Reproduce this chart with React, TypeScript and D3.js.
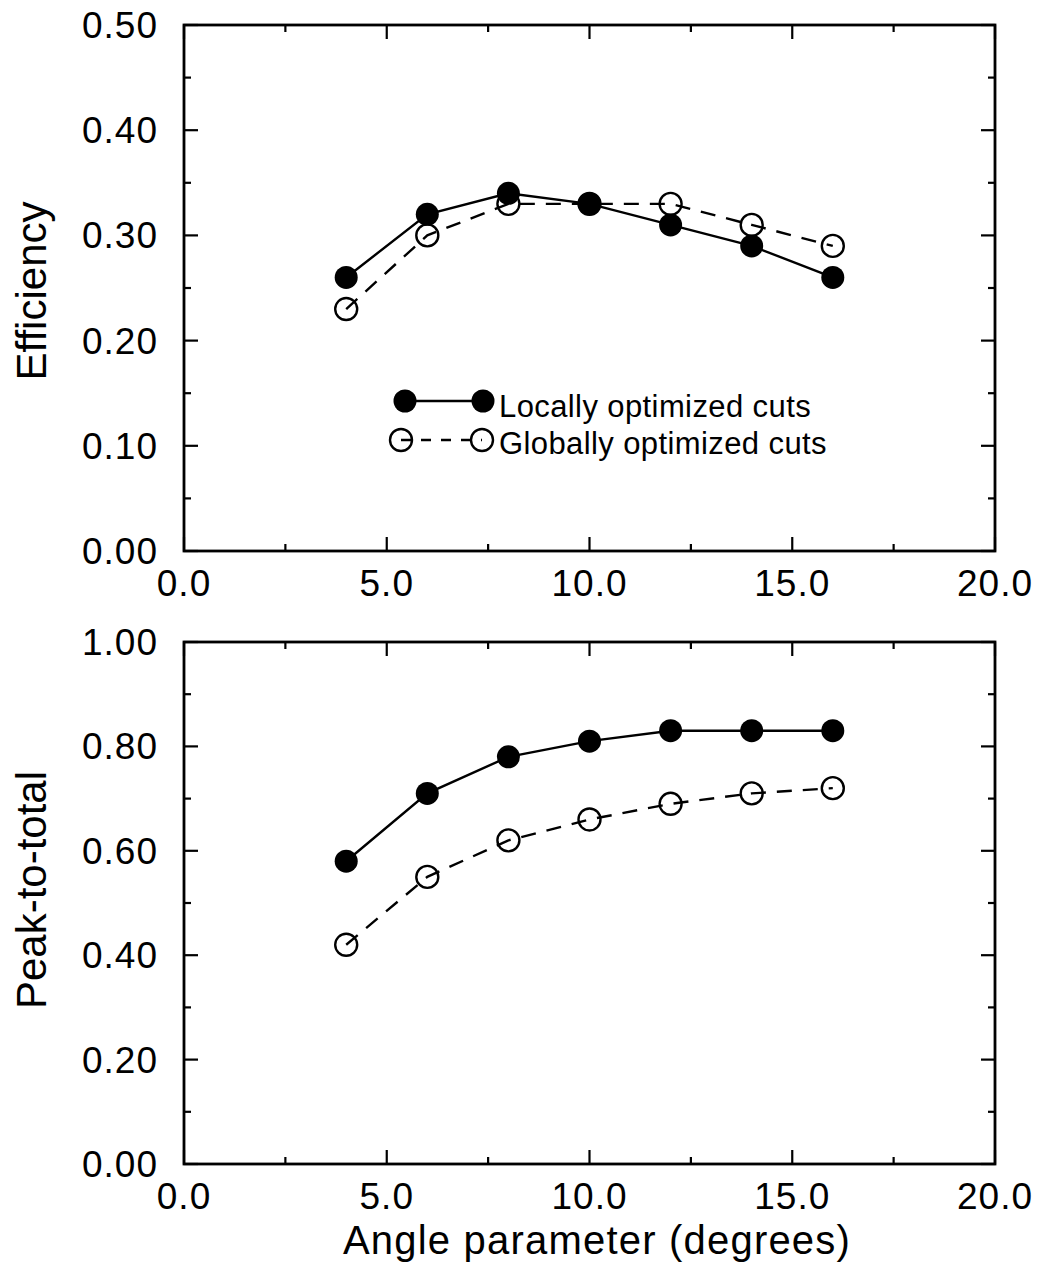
import React from "react";
import * as d3 from "d3";

const angles = [4, 6, 8, 10, 12, 14, 16];
const effLocal = [0.26, 0.32, 0.34, 0.33, 0.31, 0.29, 0.26];
const effGlobal = [0.23, 0.30, 0.33, 0.33, 0.33, 0.31, 0.29];
const ptLocal = [0.58, 0.71, 0.78, 0.81, 0.83, 0.83, 0.83];
const ptGlobal = [0.42, 0.55, 0.62, 0.66, 0.69, 0.71, 0.72];
const xTicks = [0, 5, 10, 15, 20];
const effTicks = [0, 0.1, 0.2, 0.3, 0.4, 0.5];
const ptTicks = [0, 0.2, 0.4, 0.6, 0.8, 1.0];
const legendLabels = ["Locally optimized cuts", "Globally optimized cuts"];

const W = 1042;
const H = 1276;
const FONT = "'Liberation Sans', Arial, Helvetica, sans-serif";
const left = 184;
const right = 995;

type PanelProps = {
  top: number;
  bottom: number;
  yMax: number;
  yTicks: number[];
  yMinorStep: number;
  local: number[];
  global: number[];
  title: string;
  titleY: number;
  legend?: boolean;
};

function Panel({ top, bottom, yMax, yTicks, yMinorStep, local, global, title, titleY, legend }: PanelProps) {
  const x = d3.scaleLinear().domain([0, 20]).range([left, right]);
  const y = d3.scaleLinear().domain([0, yMax]).range([bottom, top]);
  const line = d3
    .line<[number, number]>()
    .x((d) => x(d[0]))
    .y((d) => y(d[1]))
    .curve(d3.curveLinear);
  const localPts = angles.map((a, i) => [a, local[i]] as [number, number]);
  const globalPts = angles.map((a, i) => [a, global[i]] as [number, number]);
  const xMinor = d3.range(0, 20.01, 2.5);
  const yMinor = d3.range(0, yMax + 1e-6, yMinorStep);
  const majorLen = 14;
  const minorLen = 7;
  const isMajorX = (v: number) => Math.abs(v % 5) < 1e-6;
  const isMajorY = (v: number) => yTicks.some((t) => Math.abs(t - v) < 1e-6);

  return (
    <g>
      <rect x={left} y={top} width={right - left} height={bottom - top} fill="none" stroke="#000" strokeWidth={2.8} />
      {xMinor.map((v, i) => {
        const len = isMajorX(v) ? majorLen : minorLen;
        return (
          <g key={"xt" + i}>
            <line x1={x(v)} x2={x(v)} y1={bottom} y2={bottom - len} stroke="#000" strokeWidth={2.2} />
            <line x1={x(v)} x2={x(v)} y1={top} y2={top + len} stroke="#000" strokeWidth={2.2} />
          </g>
        );
      })}
      {yMinor.map((v, i) => {
        const len = isMajorY(v) ? majorLen : minorLen;
        return (
          <g key={"yt" + i}>
            <line x1={left} x2={left + len} y1={y(v)} y2={y(v)} stroke="#000" strokeWidth={2.2} />
            <line x1={right} x2={right - len} y1={y(v)} y2={y(v)} stroke="#000" strokeWidth={2.2} />
          </g>
        );
      })}
      {xTicks.map((v) => (
        <text key={"xl" + v} x={x(v)} y={bottom + 45} textAnchor="middle" fontFamily={FONT} fontSize={37} letterSpacing={1} fill="#000">
          {v.toFixed(1)}
        </text>
      ))}
      {yTicks.map((v) => (
        <text key={"yl" + v} x={158} y={y(v) + 13} textAnchor="end" fontFamily={FONT} fontSize={37} letterSpacing={1} fill="#000">
          {v.toFixed(2)}
        </text>
      ))}
      <text
        transform={`translate(46,${titleY}) rotate(-90)`}
        textAnchor="middle"
        fontFamily={FONT}
        fontSize={42}
        fill="#000"
      >
        {title}
      </text>
      <path d={line(globalPts) ?? ""} fill="none" stroke="#000" strokeWidth={2.4} strokeDasharray="15,11" />
      <path d={line(localPts) ?? ""} fill="none" stroke="#000" strokeWidth={2.4} />
      {globalPts.map((p, i) => (
        <circle key={"g" + i} cx={x(p[0])} cy={y(p[1])} r={11} fill="none" stroke="#000" strokeWidth={2.4} />
      ))}
      {localPts.map((p, i) => (
        <circle key={"l" + i} cx={x(p[0])} cy={y(p[1])} r={11.5} fill="#000" />
      ))}
      {legend && (
        <g>
          <line x1={405} x2={483} y1={401} y2={401} stroke="#000" strokeWidth={2.4} />
          <circle cx={405} cy={401} r={11.5} fill="#000" />
          <circle cx={483} cy={401} r={11.5} fill="#000" />
          <text x={499} y={417} fontFamily={FONT} fontSize={31} letterSpacing={0.4} fill="#000">
            {legendLabels[0]}
          </text>
          <line x1={401} x2={482} y1={440} y2={440} stroke="#000" strokeWidth={2.4} strokeDasharray="10,10" />
          <circle cx={401} cy={440} r={11} fill="none" stroke="#000" strokeWidth={2.4} />
          <circle cx={482} cy={440} r={11} fill="none" stroke="#000" strokeWidth={2.4} />
          <text x={499} y={454} fontFamily={FONT} fontSize={31} letterSpacing={0.4} fill="#000">
            {legendLabels[1]}
          </text>
        </g>
      )}
    </g>
  );
}

export default function App() {
  return (
    <svg width={W} height={H} style={{ display: "block", position: "absolute", left: 0, top: 0, background: "#fff" }}>
      <rect x={0} y={0} width={W} height={H} fill="#fff" />
      <Panel
        top={25}
        bottom={551}
        yMax={0.5}
        yTicks={effTicks}
        yMinorStep={0.05}
        local={effLocal}
        global={effGlobal}
        title="Efficiency"
        titleY={291}
        legend
      />
      <Panel
        top={642}
        bottom={1164}
        yMax={1.0}
        yTicks={ptTicks}
        yMinorStep={0.1}
        local={ptLocal}
        global={ptGlobal}
        title="Peak-to-total"
        titleY={890}
      />
      <text x={597} y={1254} textAnchor="middle" fontFamily={FONT} fontSize={40} letterSpacing={1.2} fill="#000">
        Angle parameter (degrees)
      </text>
    </svg>
  );
}
